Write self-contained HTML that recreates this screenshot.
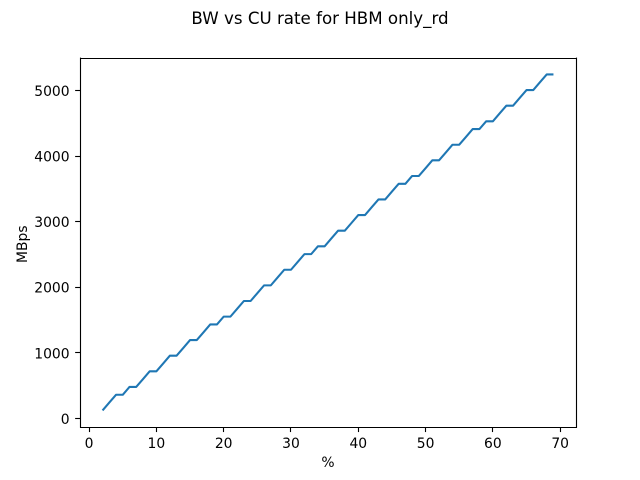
<!DOCTYPE html>
<html>
<head>
<meta charset="utf-8">
<title>BW vs CU rate for HBM only_rd</title>
<style>
html,body{margin:0;padding:0;background:#fff;}
svg{display:block;}
text{font-family:"DejaVu Sans",sans-serif;fill:#000;}
</style>
</head>
<body>
<svg id="chart" xmlns="http://www.w3.org/2000/svg" width="640" height="480" viewBox="0 0 640 480">
  <rect x="0" y="0" width="640" height="480" fill="#fff"/>
  <text x="320" y="24" font-size="16.67" text-anchor="middle">BW vs CU rate for HBM only_rd</text>
  <text x="328" y="467" font-size="13.89" text-anchor="middle">%</text>
  <text x="0" y="0" font-size="13.89" text-anchor="middle" transform="translate(27,244.2) rotate(-90)">MBps</text>
  <g id="ticks"></g>
  <path id="line" fill="none" stroke="#1f77b4" stroke-width="2.08" stroke-linejoin="round" stroke-linecap="butt"/>
  <g id="spines" stroke="#000" stroke-width="1.11" fill="none">
    <line x1="80.5" y1="57.6" x2="80.5" y2="427.7"/>
    <line x1="576.5" y1="57.6" x2="576.5" y2="427.7"/>
    <line x1="80" y1="58.5" x2="577" y2="58.5"/>
    <line x1="80" y1="427.5" x2="577" y2="427.5"/>
  </g>
</svg>
<script>
const cuRate = [2,3,4,5,6,7,8,9,10,11,12,13,14,15,16,17,18,19,20,21,22,23,24,25,26,27,28,29,30,31,32,33,34,35,36,37,38,39,40,41,42,43,44,45,46,47,48,49,50,51,52,53,54,55,56,57,58,59,60,61,62,63,64,65,66,67,68,69];
const bandwidth = [119.2,238.4,357.6,357.6,476.8,476.8,596,715.2,715.2,834.4,953.6,953.6,1072.8,1192,1192,1311.2,1430.4,1430.4,1549.6,1549.6,1668.8,1788,1788,1907.2,2026.4,2026.4,2145.6,2264.8,2264.8,2384,2503.2,2503.2,2622.4,2622.4,2741.6,2860.8,2860.8,2980,3099.2,3099.2,3218.4,3337.6,3337.6,3456.8,3576,3576,3695.2,3695.2,3814.4,3933.6,3933.6,4052.8,4172,4172,4291.2,4410.4,4410.4,4529.6,4529.6,4648.8,4768,4768,4887.2,5006.4,5006.4,5125.6,5244.8,5244.8];
const xTickValues = [0,10,20,30,40,50,60,70];
const yTickValues = [0,1000,2000,3000,4000,5000];

const NS = 'http://www.w3.org/2000/svg';
const plot = {left: 80, right: 576, top: 57.6, bottom: 427.2};
const xLo = Math.min(...cuRate), xHi = Math.max(...cuRate);
const yLo = Math.min(...bandwidth), yHi = Math.max(...bandwidth);
const xPad = (xHi - xLo) * 0.05, yPad = (yHi - yLo) * 0.05;
function xScale(v) {
  return plot.left + (v - (xLo - xPad)) / ((xHi + xPad) - (xLo - xPad)) * (plot.right - plot.left);
}
function yScale(v) {
  return plot.bottom - (v - (yLo - yPad)) / ((yHi + yPad) - (yLo - yPad)) * (plot.bottom - plot.top);
}

document.getElementById('line').setAttribute('d', cuRate.map(function (x, i) {
  return (i ? 'L' : 'M') + xScale(x).toFixed(2) + ' ' + yScale(bandwidth[i]).toFixed(2);
}).join(' '));

const ticks = document.getElementById('ticks');
xTickValues.forEach(function (v) {
  const px = Math.floor(xScale(v)) + 0.5;
  const tick = document.createElementNS(NS, 'line');
  
  
  tick.setAttribute('x1', px);
  tick.setAttribute('x2', px);
  tick.setAttribute('y1', plot.bottom);
  tick.setAttribute('y2', plot.bottom + 4.86);
  tick.setAttribute('stroke', '#000');
  tick.setAttribute('stroke-width', '1.11');
  ticks.appendChild(tick);
  const label = document.createElementNS(NS, 'text');
  
  
  label.setAttribute('x', xScale(v));
  label.setAttribute('y', 448);
  label.setAttribute('font-size', '13.89');
  label.setAttribute('text-anchor', 'middle');
  label.textContent = String(v);
  ticks.appendChild(label);
});
yTickValues.forEach(function (v) {
  const py = Math.ceil(yScale(v)) - 0.5;
  const tick = document.createElementNS(NS, 'line');
  
  
  tick.setAttribute('x1', plot.left - 4.86);
  tick.setAttribute('x2', plot.left);
  tick.setAttribute('y1', py);
  tick.setAttribute('y2', py);
  tick.setAttribute('stroke', '#000');
  tick.setAttribute('stroke-width', '1.11');
  ticks.appendChild(tick);
  const label = document.createElementNS(NS, 'text');
  
  
  label.setAttribute('x', plot.left - 10.4);
  label.setAttribute('y', yScale(v) + 5.6);
  label.setAttribute('font-size', '13.89');
  label.setAttribute('text-anchor', 'end');
  label.textContent = String(v);
  ticks.appendChild(label);
});
</script>
</body>
</html>
